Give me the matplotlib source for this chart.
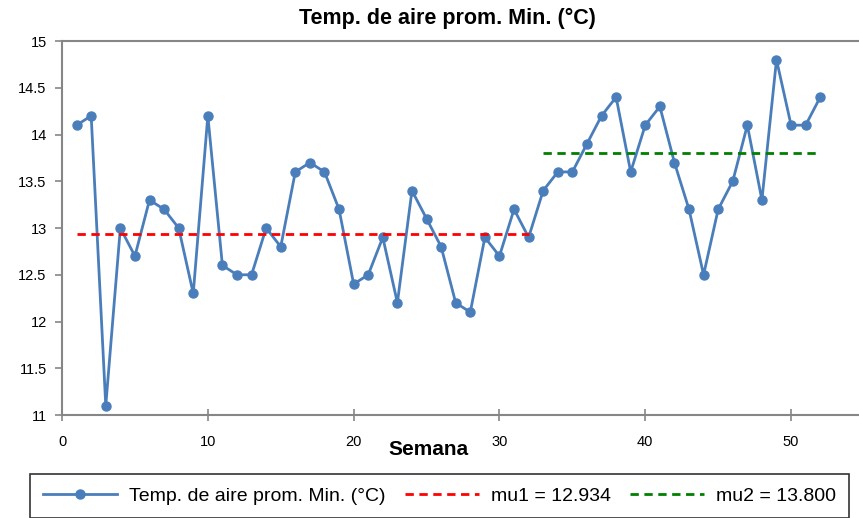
import numpy as np
import matplotlib.pyplot as plt

plt.rcParams['font.family'] = ['Liberation Sans', 'DejaVu Sans']

# Temperatura mínima promedio semanal
semanas = list(range(1, 53))
temp_min = [14.1, 14.2, 11.1, 13.0, 12.7, 13.3, 13.2, 13.0, 12.3, 14.2,
            12.6, 12.5, 12.5, 13.0, 12.8, 13.6, 13.7, 13.6, 13.2, 12.4,
            12.5, 12.9, 12.2, 13.4, 13.1, 12.8, 12.2, 12.1, 12.9, 12.7,
            13.2, 12.9, 13.4, 13.6, 13.6, 13.9, 14.2, 14.4, 13.6, 14.1,
            14.3, 13.7, 13.2, 12.5, 13.2, 13.5, 14.1, 13.3, 14.8, 14.1,
            14.1, 14.4]
corte = 32  # semanas del primer tramo
mu1 = np.mean(temp_min[:corte])
mu2 = np.mean(temp_min[corte:])

fig = plt.figure(figsize=(8.59, 5.18), dpi=100)
ax = fig.add_axes([0.0722, 0.1988, 0.9336, 0.722])

ax.plot(semanas, temp_min, color='#4A7EBB', lw=2, marker='o', ms=6.5,
        label='Temp. de aire prom. Min. (°C)')
ax.plot(semanas[:corte], [mu1] * corte, color='#FF0000', lw=2, ls=(0, (3, 2)),
        label='mu1 = %.3f' % mu1)
ax.plot(semanas[corte:], [mu2] * (52 - corte), color='#008000', lw=2, ls=(0, (3, 2)),
        label='mu2 = %.3f' % mu2)

ax.set_xlim(0, 55)
ax.set_ylim(11, 15)
ax.set_xticks([0, 10, 20, 30, 40, 50])
ax.set_yticks([11, 11.5, 12, 12.5, 13, 13.5, 14, 14.5, 15])
ax.set_yticklabels(['11', '11.5', '12', '12.5', '13', '13.5', '14', '14.5', '15'])

gris = '#868686'
for s in ['left', 'bottom', 'top']:
    ax.spines[s].set_color(gris)
    ax.spines[s].set_linewidth(1.5)
ax.spines['right'].set_visible(False)
ax.tick_params(axis='y', direction='out', length=5, width=1.2, color=gris,
               labelsize=10.5, pad=6)
ax.tick_params(axis='x', direction='inout', length=9, width=1.2, color=gris,
               labelsize=10.5, pad=10)

fig.text(447 / 859, 1 - 18 / 518, 'Temp. de aire prom. Min. (°C)', fontsize=15.5,
         fontweight='bold', ha='center', va='center')
ax.set_xlabel('Semana', fontsize=15, fontweight='bold', va='top')
ax.xaxis.set_label_coords((428 - 62) / 802, -0.068)

leg = fig.legend(loc='center', bbox_to_anchor=(439.5 / 859, 1 - 496 / 518), ncol=3,
                 fontsize=14, frameon=True, fancybox=False, edgecolor='black',
                 handlelength=3.8, handletextpad=0.6, columnspacing=1.0,
                 borderpad=0.7, borderaxespad=0)
leg.get_frame().set_linewidth(1.2)

fig.savefig('out.png', dpi=100)
